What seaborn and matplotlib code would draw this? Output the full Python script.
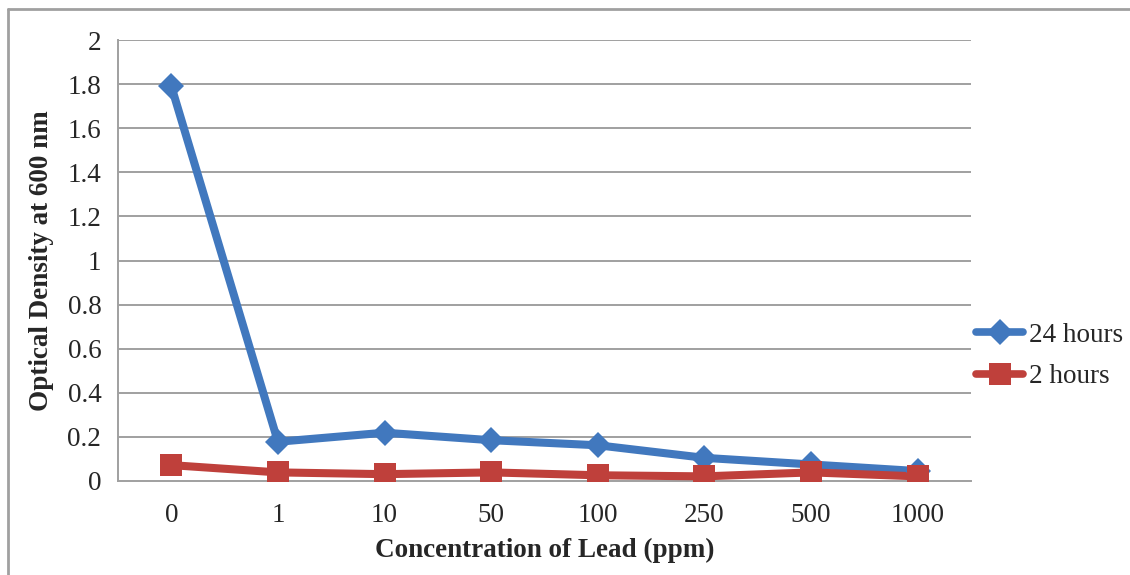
import matplotlib
matplotlib.use("Agg")
import matplotlib.pyplot as plt
from matplotlib.lines import Line2D
import seaborn as sns
import pandas as pd

# Lead concentrations (ppm) and optical density readings
concentrations = ["0", "1", "10", "50", "100", "250", "500", "1000"]
od_24h = [1.79, 0.178, 0.219, 0.185, 0.162, 0.105, 0.075, 0.045]
od_2h = [0.072, 0.039, 0.031, 0.039, 0.026, 0.021, 0.039, 0.021]
series_names = ["24 hours", "2 hours"]
y_ticks = [0, 0.2, 0.4, 0.6, 0.8, 1, 1.2, 1.4, 1.6, 1.8, 2]
y_tick_labels = ["0", "0.2", "0.4", "0.6", "0.8", "1", "1.2", "1.4", "1.6", "1.8", "2"]

sns.set_style("white")
plt.rcParams["font.family"] = ["Liberation Serif", "DejaVu Serif"]

n = len(concentrations)
df = pd.DataFrame({
    "pos": list(range(n)) * 2,
    "od": od_24h + od_2h,
    "series": [series_names[0]] * n + [series_names[1]] * n,
})

colors = {"24 hours": "#4178BE", "2 hours": "#BF403B"}
markers = {"24 hours": "D", "2 hours": "s"}
msize = {"24 hours": 13.5, "2 hours": 16}
fs = 19.5

fig = plt.figure(figsize=(11.3, 5.75), dpi=100)
ax = fig.add_axes([118 / 1130, 1 - 481 / 575, (971 - 118) / 1130, (481 - 40) / 575])

grid_c = "#A0A0A0"
for t in y_ticks[1:]:
    ax.axhline(t, color=grid_c, lw=1.4, zorder=0)

sns.lineplot(data=df, x="pos", y="od", hue="series", palette=colors,
             lw=5.8, legend=False, ax=ax, zorder=3)
for name in series_names:
    sub = df[df["series"] == name]
    ax.plot(sub["pos"], sub["od"], ls="none", marker=markers[name],
            ms=msize[name], color=colors[name], mew=0, zorder=4)

ax.set_xlim(-0.5, n - 0.5)
ax.set_ylim(0, 2)
ax.set_yticks(y_ticks)
ax.set_yticklabels(y_tick_labels, fontsize=fs)
ax.set_xticks(range(n))
ax.set_xticklabels(concentrations, fontsize=fs)
ax.set_xticks([i - 0.5 for i in range(n + 1)], minor=True)
ax.tick_params(axis="x", which="major", length=0, pad=16)
ax.tick_params(axis="x", which="minor", length=8, width=1.4, color=grid_c, direction="out")
ax.tick_params(axis="y", length=8, width=1.4, color=grid_c, direction="out", pad=4)

for s in ["top", "right"]:
    ax.spines[s].set_visible(False)
for s in ["left", "bottom"]:
    ax.spines[s].set_color(grid_c)
    ax.spines[s].set_linewidth(1.4)

ax.set_xlabel("Concentration of Lead (ppm)", fontsize=fs, fontweight="bold", labelpad=7)
ax.set_ylabel("Optical Density at 600 nm", fontsize=fs, fontweight="bold", labelpad=10)

handles = [Line2D([0], [0], color=colors[nm], lw=5.5, marker=markers[nm],
                  ms=msize[nm], mew=0) for nm in series_names]
fig.legend(handles, series_names, loc="center left", bbox_to_anchor=(0.859, 0.381),
           frameon=False, fontsize=fs, handlelength=1.75, handletextpad=0.2,
           labelspacing=0.6, borderaxespad=0.0, borderpad=0.2)

# Outer chart frame (top and left edges)
fig.add_artist(Line2D([8 / 1130, 1.0], [1 - 9 / 575, 1 - 9 / 575],
                      transform=fig.transFigure, color="#A0A0A0", lw=2))
fig.add_artist(Line2D([8 / 1130, 8 / 1130], [0, 1 - 9 / 575],
                      transform=fig.transFigure, color="#A0A0A0", lw=2))

fig.savefig("out.png", dpi=100)
